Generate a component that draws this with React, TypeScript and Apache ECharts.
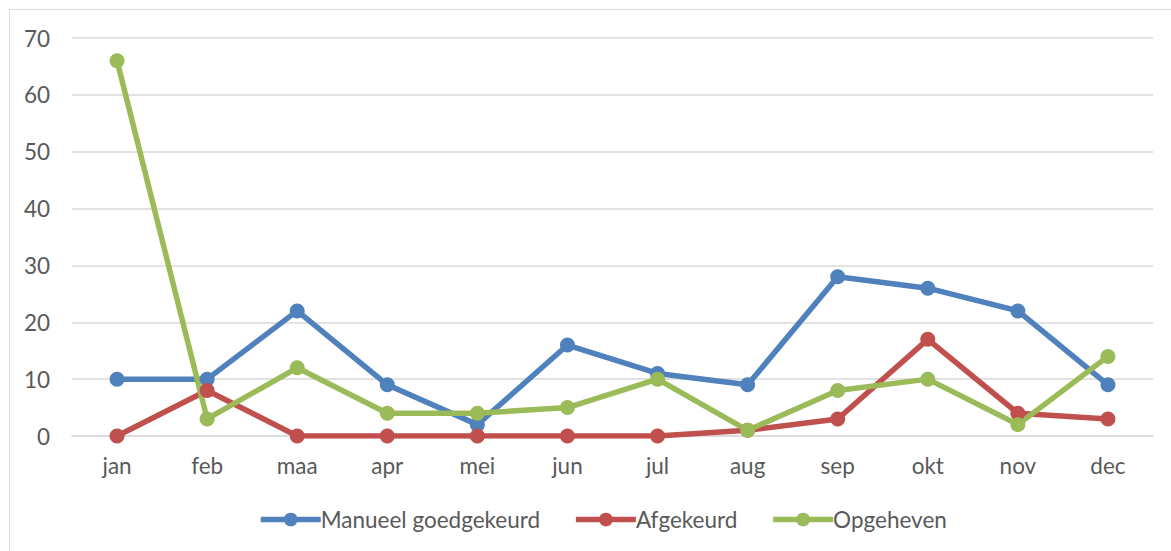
import React, { useEffect, useRef } from "react";
import * as echarts from "echarts";

const months = ["jan", "feb", "maa", "apr", "mei", "jun", "jul", "aug", "sep", "okt", "nov", "dec"];
const manueelGoedgekeurd = [10, 10, 22, 9, 2, 16, 11, 9, 28, 26, 22, 9];
const afgekeurd = [0, 8, 0, 0, 0, 0, 0, 1, 3, 17, 4, 3];
const opgeheven = [66, 3, 12, 4, 4, 5, 10, 1, 8, 10, 2, 14];

const FONT = "Lato";
const TEXT = "#595959";
const FS = 22.5;

export default function App() {
  const ref = useRef<HTMLDivElement>(null);
  useEffect(() => {
    if (!ref.current) return;
    const chart = echarts.init(ref.current, undefined, { renderer: "svg" });
    const mk = (name: string, data: number[], color: string) => ({
      name,
      type: "line",
      data,
      symbol: "circle",
      symbolSize: 15,
      lineStyle: { width: 5.5, color },
      itemStyle: { color },
      z: 2,
    });
    chart.setOption({
      animation: false,
      backgroundColor: "#ffffff",
      textStyle: { fontFamily: FONT },
      graphic: [
        {
          type: "rect",
          shape: { x: 9.5, y: 9.5, width: 1200, height: 600 },
          style: { fill: "none", stroke: "#D9D9D9", lineWidth: 1 },
          silent: true,
          z: -1,
        },
      ],
      grid: { left: 72, right: 18, top: 38, bottom: 115, containLabel: false },
      xAxis: {
        type: "category",
        data: months,
        boundaryGap: true,
        axisLine: { show: true, lineStyle: { color: "#D9D9D9", width: 1.5 } },
        axisTick: { show: false },
        axisLabel: { color: TEXT, fontSize: FS, fontFamily: FONT, margin: 18 },
      },
      yAxis: {
        type: "value",
        min: 0,
        max: 70,
        interval: 10,
        axisLine: { show: false },
        axisTick: { show: false },
        splitLine: { lineStyle: { color: "#D9D9D9", width: 1.5 } },
        axisLabel: { color: TEXT, fontSize: FS, fontFamily: FONT, margin: 22 },
      },
      legend: {
        top: 508,
        left: 258,
        padding: 0,
        itemWidth: 60,
        itemHeight: 17,
        itemGap: 33,
        lineStyle: { width: 5.5 },
        textStyle: { color: TEXT, fontSize: FS, fontFamily: FONT, padding: [0, 0, 0, -5] },
        data: ["Manueel goedgekeurd", "Afgekeurd", "Opgeheven"],
      },
      series: [
        mk("Manueel goedgekeurd", manueelGoedgekeurd, "#4F81BD"),
        mk("Afgekeurd", afgekeurd, "#C0504D"),
        mk("Opgeheven", opgeheven, "#9BBB59"),
      ],
    });
    return () => chart.dispose();
  }, []);
  return (
    <div
      ref={ref}
      style={{ position: "fixed", left: 0, top: 0, width: 1171, height: 551, background: "#fff" }}
    />
  );
}
